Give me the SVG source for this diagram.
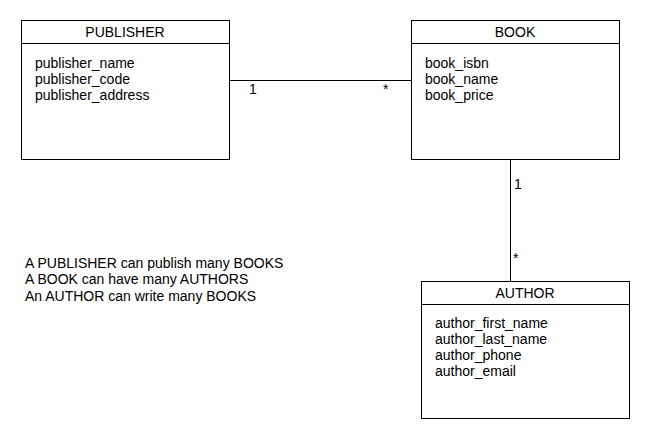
<svg xmlns="http://www.w3.org/2000/svg" width="650" height="440" viewBox="0 0 650 440">
<style>
.box{fill:#fff;stroke:#000;stroke-width:1}
.ln{stroke:#000;stroke-width:1;fill:none}
text{font-family:"Liberation Sans",Arial,sans-serif;font-size:14px;fill:#000}
.t{text-anchor:middle}
</style>
<rect width="650" height="440" fill="#fff"/>
<g id="connectors">
<line class="ln" x1="229.5" y1="80.5" x2="411.5" y2="80.5"/>
<text x="249" y="94">1</text>
<text x="383" y="94">*</text>
<line class="ln" x1="510.5" y1="159.5" x2="510.5" y2="281.5"/>
<text x="514" y="189">1</text>
<text x="513" y="263">*</text>
</g>
<g id="publisher">
<rect class="box" x="21.5" y="20.5" width="208" height="139"/>
<line class="ln" x1="21.5" y1="43.5" x2="229.5" y2="43.5"/>
<text class="t" x="125" y="37">PUBLISHER</text>
<text x="35" y="68">publisher_name</text>
<text x="35" y="84">publisher_code</text>
<text x="35" y="100">publisher_address</text>
</g>
<g id="book">
<rect class="box" x="411.5" y="20.5" width="208" height="139"/>
<line class="ln" x1="411.5" y1="43.5" x2="619.5" y2="43.5"/>
<text class="t" x="515" y="37">BOOK</text>
<text x="425" y="68">book_isbn</text>
<text x="425" y="84">book_name</text>
<text x="425" y="100">book_price</text>
</g>
<g id="author">
<rect class="box" x="421.5" y="281.5" width="208" height="137"/>
<line class="ln" x1="421.5" y1="304.5" x2="629.5" y2="304.5"/>
<text class="t" x="525" y="298">AUTHOR</text>
<text x="435" y="328">author_first_name</text>
<text x="435" y="344">author_last_name</text>
<text x="435" y="360">author_phone</text>
<text x="435" y="376">author_email</text>
</g>
<g id="notes">
<text x="25" y="268">A PUBLISHER can publish many BOOKS</text>
<text x="25" y="284">A BOOK can have many AUTHORS</text>
<text x="25" y="301">An AUTHOR can write many BOOKS</text>
</g>
</svg>
